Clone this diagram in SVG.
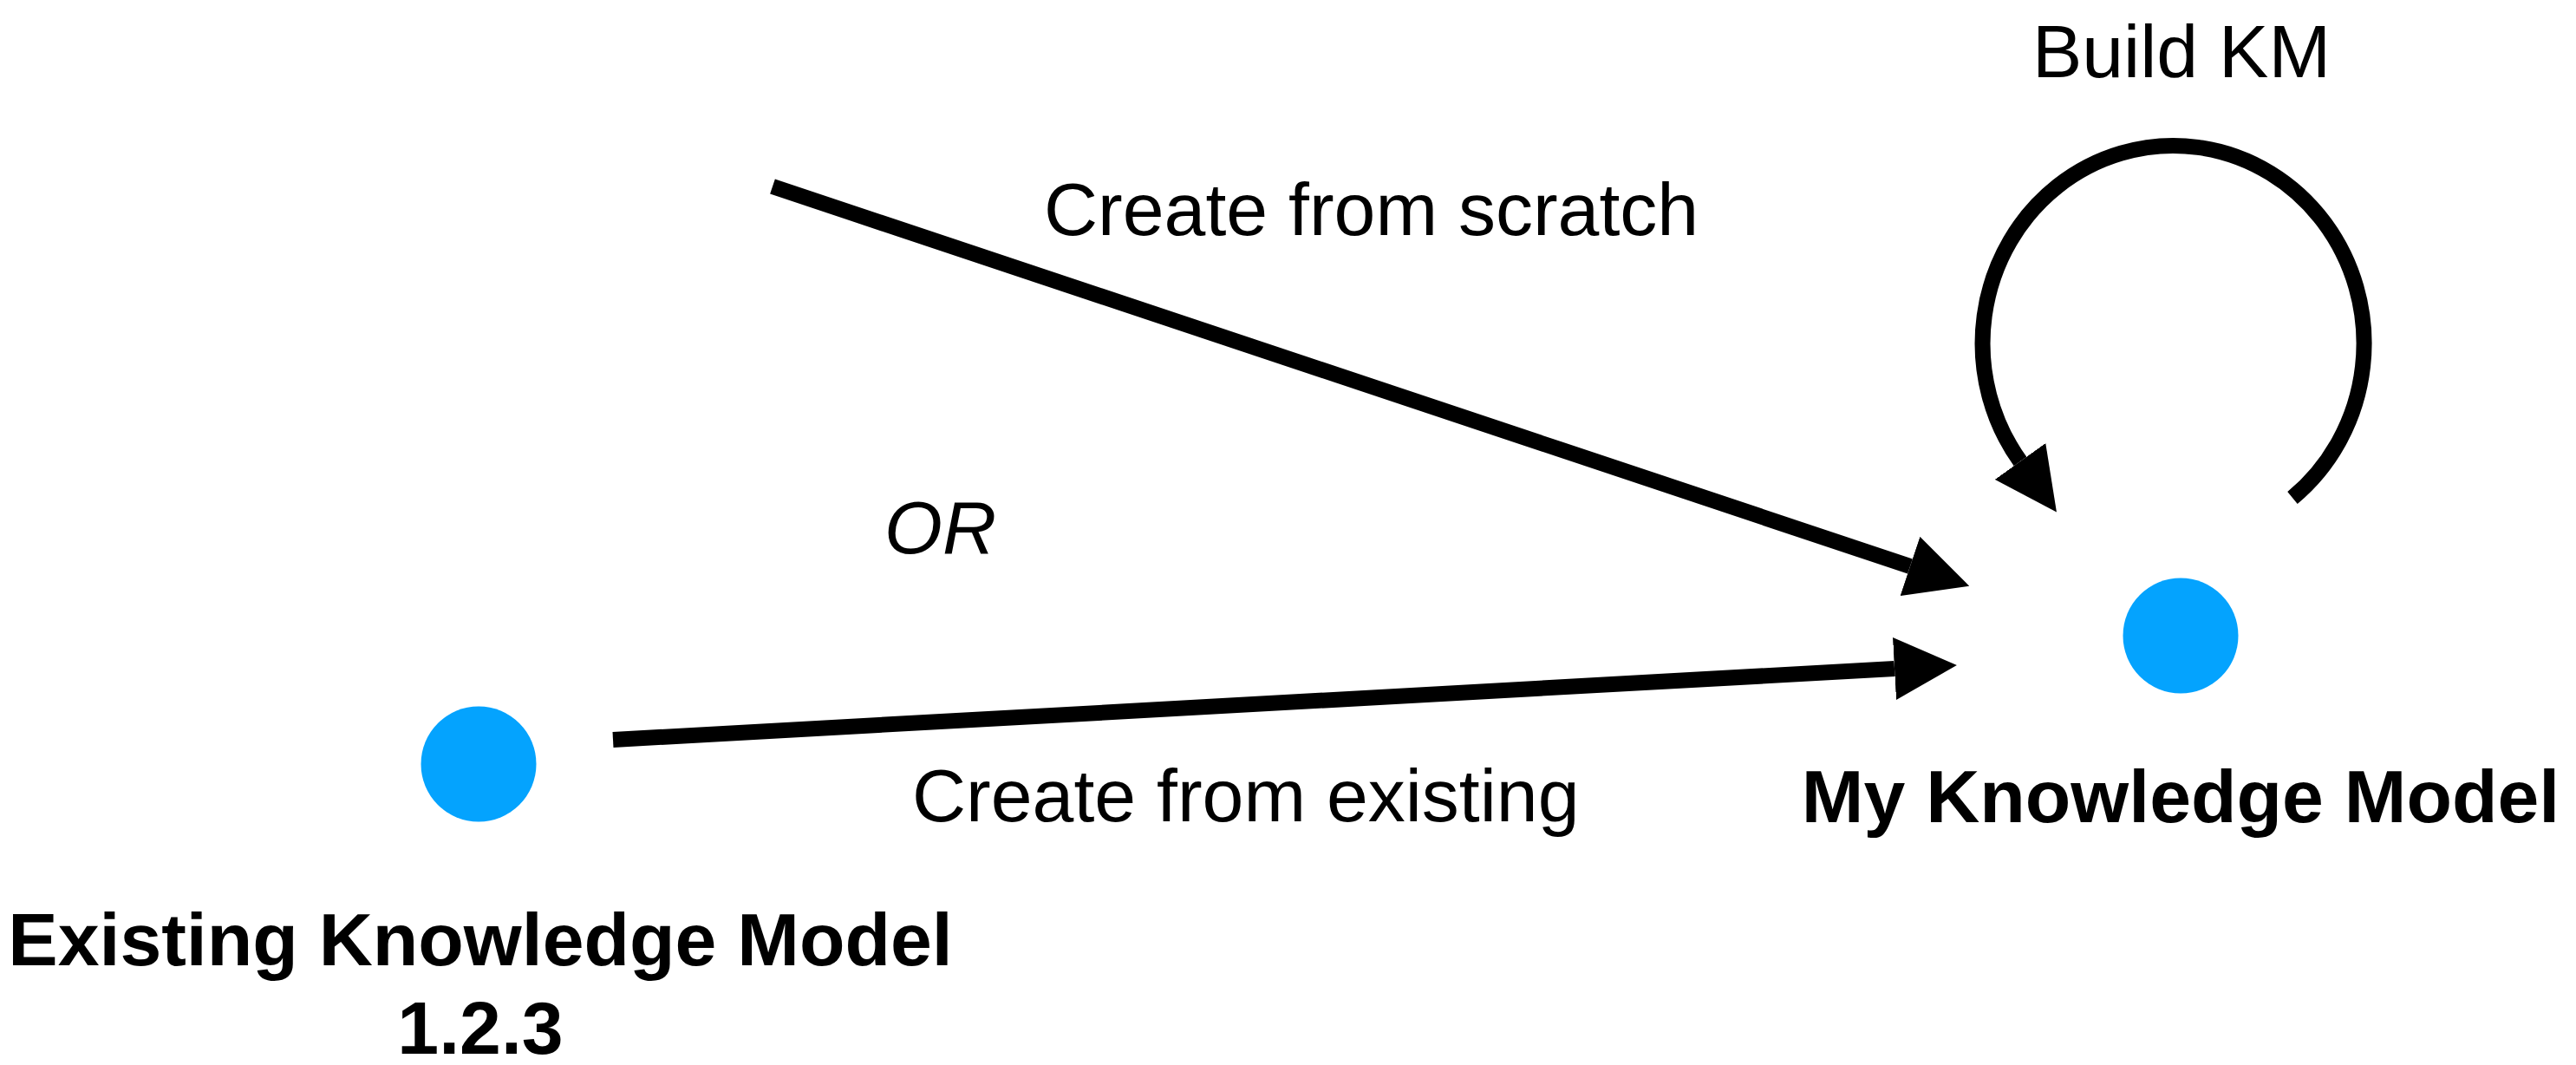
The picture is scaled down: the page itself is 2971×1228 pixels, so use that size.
<svg xmlns="http://www.w3.org/2000/svg" width="2971" height="1228" viewBox="0 0 2971 1228">
  <style>
    .lbl { font-family: "Liberation Sans", Arial, Helvetica, sans-serif; font-size: 86px; fill: #000; }
    .bold { font-weight: bold; }
    .ital { font-style: italic; }
    .conn { fill: none; stroke: #000; stroke-width: 18; stroke-linecap: butt; }
    .node { fill: #04A3FE; }
  </style>
  <defs>
    <marker id="arrow" viewBox="0 0 4 4" refX="0" refY="2" markerWidth="4" markerHeight="4" markerUnits="strokeWidth" orient="auto">
      <path d="M0,0 L4,2 L0,4 z" fill="#000"/>
    </marker>
  </defs>
  <rect x="0" y="0" width="2971" height="1228" fill="#fff"/>

  <g id="connectors">
    <line id="edge-scratch" class="conn" x1="891" y1="215" x2="2203" y2="653" marker-end="url(#arrow)"/>
    <line id="edge-existing" class="conn" x1="707" y1="853" x2="2185" y2="771" marker-end="url(#arrow)"/>
    <path id="edge-build" class="conn" d="M 2644 574 A 220 228 0 1 0 2330 532" marker-end="url(#arrow)"/>
  </g>

  <g id="edge-labels">
    <text class="lbl" x="1204" y="271">Create from scratch</text>
    <text class="lbl ital" x="1020" y="638">OR</text>
    <text class="lbl" x="1052" y="947">Create from existing</text>
    <text class="lbl" x="2516" y="89" text-anchor="middle">Build KM</text>
  </g>

  <g id="node-existing">
    <circle class="node" cx="552" cy="881" r="66.5"/>
    <text class="lbl bold" x="554" y="1113" text-anchor="middle">Existing Knowledge Model</text>
    <text class="lbl bold" x="554" y="1215" text-anchor="middle">1.2.3</text>
  </g>

  <g id="node-my">
    <circle class="node" cx="2515" cy="733" r="66.5"/>
    <text class="lbl bold" x="2515" y="948" text-anchor="middle">My Knowledge Model</text>
  </g>
</svg>
